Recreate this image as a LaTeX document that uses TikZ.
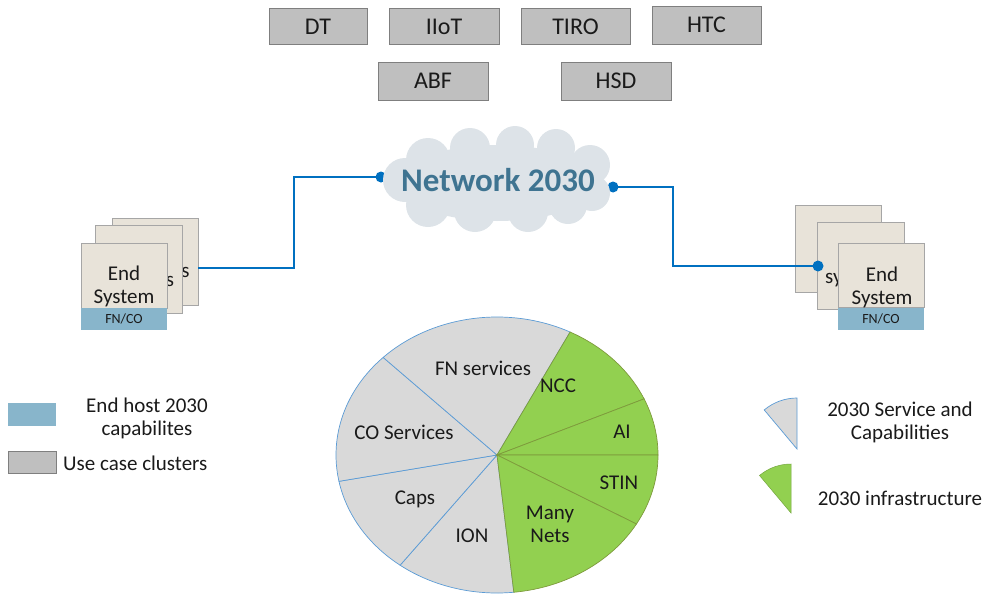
\documentclass[tikz,border=0pt]{standalone}
\usepackage{fontspec}
\setmainfont{Carlito}
\definecolor{boxgray}{HTML}{BFBFBF}
\definecolor{boxedge}{HTML}{7F7F7F}
\definecolor{esfill}{HTML}{E8E3D9}
\definecolor{esedge}{HTML}{A6A6A6}
\definecolor{band}{HTML}{88B5CB}
\definecolor{piegray}{HTML}{D9D9D9}
\definecolor{pieblue}{HTML}{5B9BD5}
\definecolor{piegreen}{HTML}{92D050}
\definecolor{greenedge}{HTML}{7E9A3C}
\definecolor{wirec}{HTML}{0070C0}
\definecolor{cloudc}{HTML}{DDE3E8}
\definecolor{nettext}{HTML}{3F7491}
\definecolor{txt}{HTML}{1A1A1A}
\tikzset{
  clusterbox/.style={draw=boxedge, fill=boxgray, line width=0.8pt, minimum width=109, minimum height=36, inner sep=0pt, text=txt, font=\fontsize{24}{26}\selectfont},
  esbox/.style={draw=esedge, fill=esfill, line width=0.8pt, minimum width=86, minimum height=87, inner sep=0pt},
  esfront/.style={draw=esedge, fill=esfill, line width=0.8pt, minimum width=86, minimum height=65, inner sep=0pt},
  bandbox/.style={fill=band, minimum width=86, minimum height=22, inner sep=0pt, text=txt, font=\fontsize{14}{16}\selectfont},
  lbl/.style={text=txt, font=\fontsize{21}{23}\selectfont, align=center, inner sep=0pt},
  wire/.style={draw=wirec, line width=2.9pt},
  gsec/.style={fill=piegray, draw=pieblue, line width=0.7pt},
  grsec/.style={fill=piegreen, draw=greenedge, line width=0.7pt},
}
\begin{document}
\begin{tikzpicture}[x=1pt,y=-1pt]
\useasboundingbox (0,0) rectangle (987,597);

% top use-case cluster boxes
\node[clusterbox, minimum width=98] (dt) at (318,26.5) {DT};
\node[clusterbox, minimum width=110] (iiot) at (444,26.5) {IIoT};
\node[clusterbox] (tiro) at (575.5,26.5) {TIRO};
\node[clusterbox, minimum height=38] (htc) at (706.5,25) {HTC};
\node[clusterbox, minimum height=38, minimum width=110] (abf) at (433,81) {ABF};
\node[clusterbox, minimum height=38, minimum width=110] (hsd) at (616,81) {HSD};

% left end system stack (back boxes)
\node[esbox] (lb) at (155,261.5) {};
\node[lbl, anchor=center] (lbs) at (185.5,272) {s};
% right back box
\node[esbox] (rb) at (838,248.5) {};

% wires
\coordinate (lw) at (198,268);
\coordinate (lc) at (381,177);
\coordinate (rc) at (613,187);
\coordinate (rw) at (818,266);
\draw[wire] (lw) -- (294,268) -- (294,177) -- (lc);
\draw[wire] (rc) -- (673,187) -- (673,266) -- (rw);
\fill[wirec] (lc) circle (5.5);
\fill[wirec] (rc) circle (5.5);

% cloud
\fill[cloudc] (497,183) ellipse [x radius=100, y radius=38];
\fill[cloudc] (405,180) circle (22);
\fill[cloudc] (428,160) circle (22);
\fill[cloudc] (470,148) circle (20);
\fill[cloudc] (515,145) circle (19);
\fill[cloudc] (556,148) circle (19);
\fill[cloudc] (590,165) circle (20);
\fill[cloudc] (592,193) circle (18);
\fill[cloudc] (428,205) circle (22);
\fill[cloudc] (475,211) circle (21);
\fill[cloudc] (528,212) circle (20);
\fill[cloudc] (568,205) circle (19);
\node[text=nettext, font=\bfseries\fontsize{33}{35}\selectfont, inner sep=0pt] (net) at (498,180) {Network 2030};

% left stack middle + front
\node[esbox, minimum width=87, minimum height=88] (lm) at (138.5,269) {};
\node[lbl] (lms) at (170,281) {s};
\node[esfront] (lf) at (124,275.5) {};
\node[lbl] (lft) at (124,286) {End\\System};
\node[bandbox] (lband) at (124,319) {FN/CO};

% right stack middle + front
\node[esbox, minimum width=87] (rm) at (860.5,265.5) {};
\fill[wirec] (rw) circle (5.5);
\node[lbl, anchor=west] (rms) at (825,280) {sy};
\node[esfront, minimum height=64] (rf) at (881,275) {};
\node[lbl] (rft) at (882,287) {End\\System};
\node[bandbox] (rband) at (881,318.5) {FN/CO};

% pie
\coordinate (pc) at (497,455);
\filldraw[gsec] (pc) -- ([shift={(pc)}]84:161 and 138) arc[start angle=84, end angle=127, x radius=161, y radius=138] -- cycle;
\filldraw[gsec] (pc) -- ([shift={(pc)}]127:161 and 138) arc[start angle=127, end angle=169, x radius=161, y radius=138] -- cycle;
\filldraw[gsec] (pc) -- ([shift={(pc)}]169:161 and 138) arc[start angle=169, end angle=225, x radius=161, y radius=138] -- cycle;
\filldraw[gsec] (pc) -- ([shift={(pc)}]225:161 and 138) arc[start angle=225, end angle=297, x radius=161, y radius=138] -- cycle;
\filldraw[grsec] (pc) -- ([shift={(pc)}]-63:161 and 138) arc[start angle=-63, end angle=-24, x radius=161, y radius=138] -- cycle;
\filldraw[grsec] (pc) -- ([shift={(pc)}]-24:161 and 138) arc[start angle=-24, end angle=0, x radius=161, y radius=138] -- cycle;
\filldraw[grsec] (pc) -- ([shift={(pc)}]0:161 and 138) arc[start angle=0, end angle=30, x radius=161, y radius=138] -- cycle;
\filldraw[grsec] (pc) -- ([shift={(pc)}]30:161 and 138) arc[start angle=30, end angle=84, x radius=161, y radius=138] -- cycle;

\node[lbl] (fns) at (483,368) {FN services};
\node[lbl] (ncc) at (558,386) {NCC};
\node[lbl] (ai) at (622,432) {AI};
\node[lbl] (stin) at (619,483) {STIN};
\node[lbl] (many) at (550,524) {Many\\Nets};
\node[lbl] (ion) at (472,536) {ION};
\node[lbl] (caps) at (415,499) {Caps};
\node[lbl] (cos) at (404,432) {CO Services};

% left legend
\node[fill=band, minimum width=48, minimum height=23, inner sep=0pt] (legb) at (31.5,414.5) {};
\node[lbl] (legbt) at (147,418) {End host 2030\\capabilites};
\node[draw=boxedge, fill=boxgray, line width=0.8pt, minimum width=48, minimum height=22, inner sep=0pt] (legg) at (32,462.5) {};
\node[lbl, anchor=west] (leggt) at (63,463) {Use case clusters};

% right legend
\filldraw[fill=piegray, draw=pieblue, line width=0.7pt] (797,449) -- ++(-130:51) arc[start angle=-130, end angle=-90, radius=51] -- cycle;
\filldraw[fill=piegreen, draw=piegreen!80!black, line width=0.5pt] (791,513) -- ++(-130:49) arc[start angle=-130, end angle=-90, radius=49] -- cycle;
\node[lbl] (legst) at (900,422) {2030 Service and\\Capabilities};
\node[lbl] (legit) at (900,498) {2030 infrastructure};
\end{tikzpicture}
\end{document}
